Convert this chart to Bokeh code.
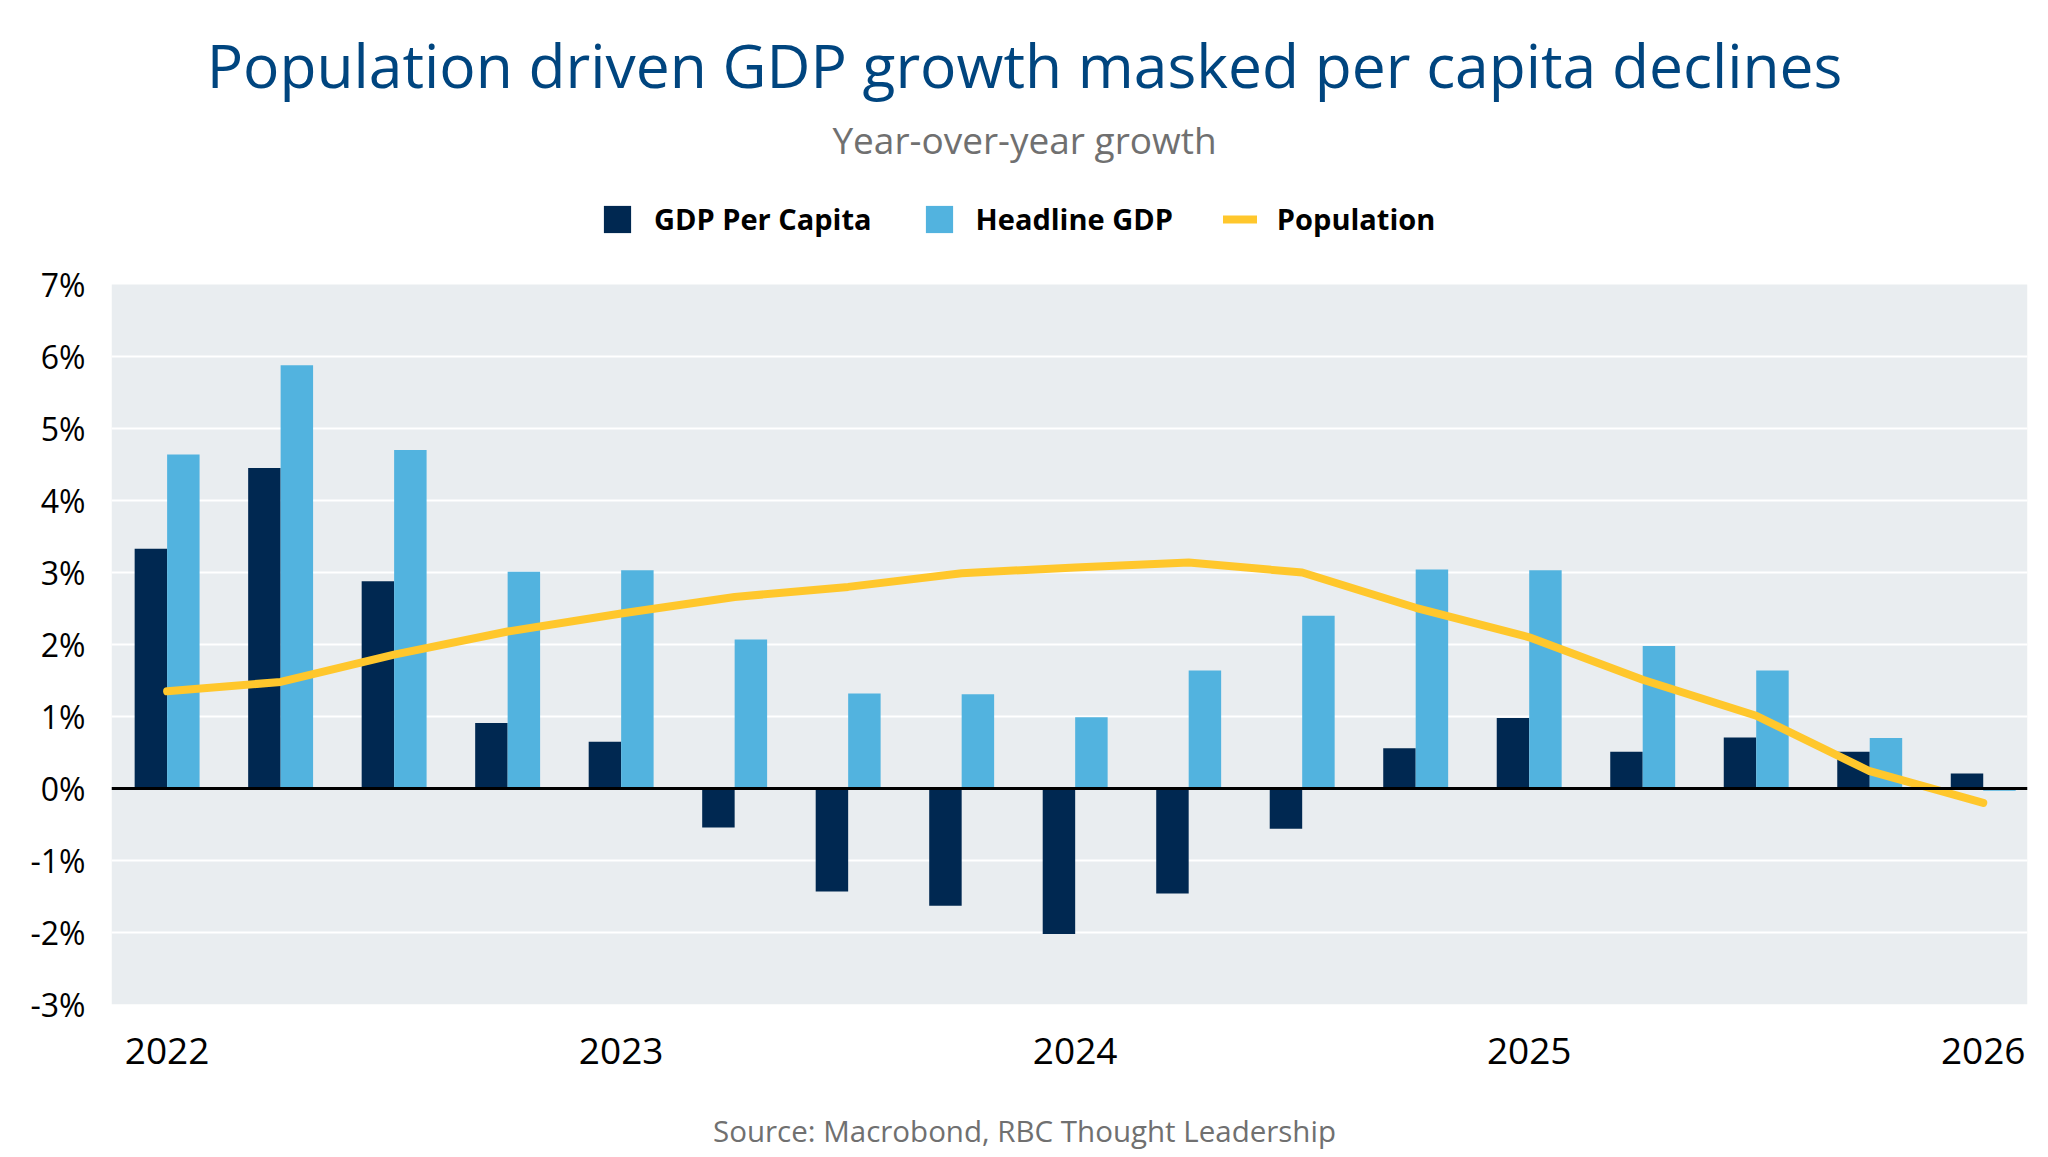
from bokeh.plotting import figure
from bokeh.layouts import column
from bokeh.models import (ColumnDataSource, Range1d, FixedTicker, Legend,
                          LegendItem, Span, Label, BoxAnnotation)
from bokeh.embed import file_html
from bokeh.resources import INLINE

# ---------------- data ----------------
quarters = ["2022Q1", "2022Q2", "2022Q3", "2022Q4",
            "2023Q1", "2023Q2", "2023Q3", "2023Q4",
            "2024Q1", "2024Q2", "2024Q3", "2024Q4",
            "2025Q1", "2025Q2", "2025Q3", "2025Q4",
            "2026Q1"]
gdp_per_capita = [3.33, 4.45, 2.88, 0.91, 0.65, -0.54, -1.43, -1.63, -2.02,
                  -1.46, -0.56, 0.56, 0.98, 0.51, 0.71, 0.51, 0.21]
headline_gdp = [4.64, 5.88, 4.70, 3.01, 3.03, 2.07, 1.32, 1.31, 0.99,
                1.64, 2.40, 3.04, 3.03, 1.98, 1.64, 0.70, -0.03]
population = [1.35, 1.48, 1.86, 2.18, 2.43, 2.66, 2.80, 2.99, 3.07,
              3.14, 3.00, 2.51, 2.10, 1.51, 1.01, 0.24, -0.20]
year_ticks = [0, 4, 8, 12, 16]
year_labels = ["2022", "2023", "2024", "2025", "2026"]
y_ticks = [-3, -2, -1, 0, 1, 2, 3, 4, 5, 6, 7]
y_min, y_max = -3, 7

TITLE = "Population driven GDP growth masked per capita declines"
SUBTITLE = "Year-over-year growth"
SOURCE = "Source: Macrobond, RBC Thought Leadership"

DARK = "#002851"
LIGHT = "#52b3df"
YELLOW = "#ffc72c"
BG = "#e9edf0"
FONT = "Open Sans"

idx = list(range(len(quarters)))
bw = 0.286
src = ColumnDataSource(dict(
    x_pc=[i - bw / 2 for i in idx],
    x_hl=[i + bw / 2 for i in idx],
    x=idx,
    pc=gdp_per_capita,
    hl=headline_gdp,
    pop=population,
))

# ---------------- layout geometry ----------------
W = 2048
H_MAIN, H_FOOT = 1100, 57
BORDER_L, BORDER_R = 111, 21
FRAME_TOP_PAD = 284          # white header band inside the frame (px)
PLOT_H = 720                 # height of the grey plotting band (px)
px_per_unit = PLOT_H / (y_max - y_min)
y_top = y_max + FRAME_TOP_PAD / px_per_unit
x_start, x_end = -0.49, 16.39
frame_w = W - BORDER_L - BORDER_R
PAGE_CX = 1024
x_center = x_start + (PAGE_CX - BORDER_L) / frame_w * (x_end - x_start)

p = figure(width=W, height=H_MAIN, output_backend="svg", toolbar_location=None,
           title_location=None,
           x_range=Range1d(x_start, x_end), y_range=Range1d(y_min, y_top),
           min_border_left=BORDER_L, min_border_right=BORDER_R,
           min_border_top=0, min_border_bottom=96)
p.background_fill_color = "white"
p.border_fill_color = "white"
p.outline_line_color = None

p.add_layout(BoxAnnotation(bottom=y_min, top=y_max, fill_color=BG,
                           fill_alpha=1, line_color=None, level="image"))

r_pc = p.vbar(x="x_pc", top="pc", bottom=0, width=bw, source=src,
              fill_color=DARK, line_color=None)
r_hl = p.vbar(x="x_hl", top="hl", bottom=0, width=bw, source=src,
              fill_color=LIGHT, line_color=None)
p.add_layout(Span(location=0, dimension="width", line_color="black",
                  line_width=3))
r_pop = p.line(x="x", y="pop", source=src, line_color=YELLOW, line_width=8,
               line_cap="round", line_join="round")

# grid
p.xgrid.visible = False
p.ygrid.ticker = FixedTicker(ticks=[t for t in y_ticks if y_min < t < y_max])
p.ygrid.grid_line_color = "white"
p.ygrid.grid_line_width = 2

# axes
p.xaxis.ticker = FixedTicker(ticks=year_ticks)
p.xaxis.major_label_overrides = {t: l for t, l in zip(year_ticks, year_labels)}
p.yaxis.ticker = FixedTicker(ticks=y_ticks)
p.yaxis.major_label_overrides = {t: f"{t}%" for t in y_ticks}
for ax in (p.xaxis[0], p.yaxis[0]):
    ax.axis_line_color = None
    ax.major_tick_line_color = None
    ax.minor_tick_line_color = None
    ax.major_tick_out = 0
    ax.major_tick_in = 0
    ax.major_label_text_font = FONT
    ax.major_label_text_color = "black"
p.xaxis.major_label_text_font_size = "37px"
p.xaxis.major_label_standoff = 33
p.yaxis.major_label_text_font_size = "32px"
p.yaxis.major_label_standoff = 26

# header texts inside the white band of the frame
p.add_layout(Label(x=x_center, y=y_top - 64 / px_per_unit, text=TITLE,
                   text_font=FONT, text_font_size="60.5px", text_color="#00457f",
                   text_align="center", text_baseline="middle"))
p.add_layout(Label(x=x_center, y=y_top - 139 / px_per_unit, text=SUBTITLE,
                   text_font=FONT, text_font_size="37px", text_color="#707070",
                   text_align="center", text_baseline="middle"))

legend = Legend(items=[LegendItem(label="GDP Per Capita", renderers=[r_pc]),
                       LegendItem(label="Headline GDP", renderers=[r_hl]),
                       LegendItem(label="Population", renderers=[r_pop])],
                orientation="horizontal",
                location=(489, H_MAIN - 96 - 221 - 17))
legend.label_text_font = FONT
legend.label_text_font_style = "bold"
legend.label_text_font_size = "29px"
legend.label_text_color = "black"
legend.glyph_width = 34
legend.glyph_height = 34
legend.label_standoff = 20
legend.spacing = 50
legend.padding = 0
legend.margin = 0
legend.background_fill_alpha = 0
legend.border_line_color = None
p.add_layout(legend)

# footer with the source note (frame aligned with the main plot's frame,
# x range expressed in page pixels)
f = figure(width=W, height=H_FOOT, output_backend="svg", toolbar_location=None,
           title_location=None, x_axis_location=None, y_axis_location=None,
           x_range=Range1d(BORDER_L, W - BORDER_R), y_range=Range1d(0, H_FOOT),
           min_border_left=BORDER_L, min_border_right=BORDER_R,
           min_border_top=0, min_border_bottom=0)
f.grid.visible = False
f.outline_line_color = None
f.background_fill_color = "white"
f.border_fill_color = "white"
f.add_layout(Label(x=PAGE_CX, y=H_FOOT - (1130 - H_MAIN), text=SOURCE,
                   text_font=FONT, text_font_size="29.5px", text_color="#707070",
                   text_align="center", text_baseline="middle"))

layout = column(p, f, spacing=0)
open("out.html", "w").write(file_html(layout, INLINE))
